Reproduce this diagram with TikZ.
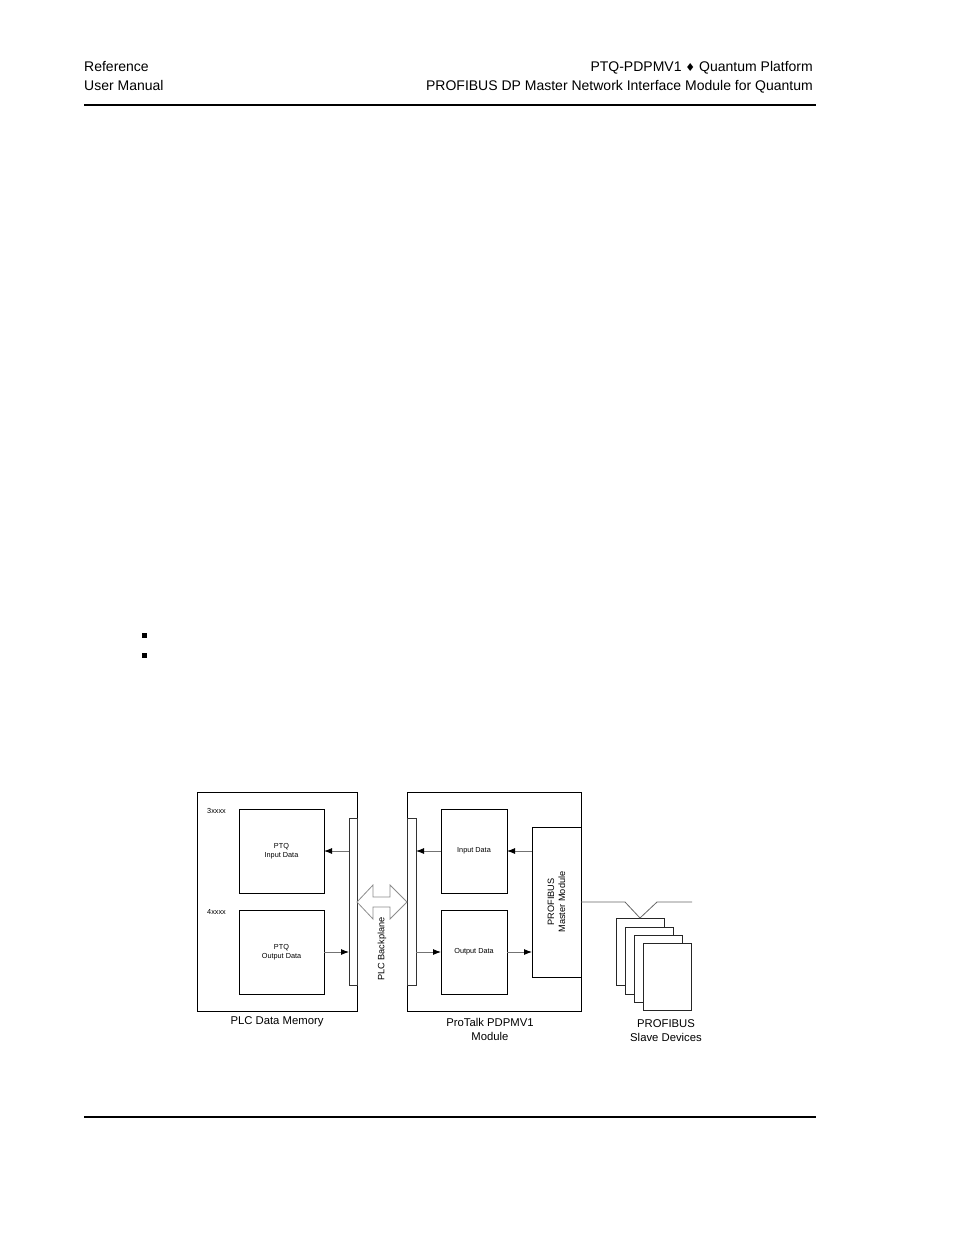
\documentclass[tikz,border=0pt]{standalone}
\usepackage{fontspec}
\setmainfont{Liberation Sans}
\newfontfamily\symfont{DejaVu Sans}
\usetikzlibrary{arrows.meta}
\begin{document}
\begin{tikzpicture}[x=1pt,y=-1pt,
  box/.style={draw=black,line width=0.9pt,inner sep=0pt,outer sep=0pt,fill=white},
  bar/.style={draw=black!80,line width=0.8pt,inner sep=0pt,outer sep=0pt,fill=white},
  slave/.style={draw=black!85,line width=0.8pt,inner sep=0pt,outer sep=0pt,fill=white,minimum width=48pt,minimum height=67pt},
  arr/.style={draw=black!55,line width=0.9pt,-{Latex[length=8pt,width=6pt,color=black]}},
  small/.style={font=\fontsize{7.3}{9}\selectfont,align=center,inner sep=0pt},
  mid/.style={font=\fontsize{9.2}{11}\selectfont,align=center,inner sep=0pt},
  lab/.style={font=\fontsize{11.3}{14.5}\selectfont,align=center,inner sep=0pt},
  head/.style={font=\fontsize{14}{16}\selectfont,inner sep=0pt}]
\useasboundingbox (0,0) rectangle (954,1235);
% header / footer
\node[head,anchor=base west] (h1) at (84,71) {Reference};
\node[head,anchor=base west] (h2) at (84,90) {User Manual};
\node[head,anchor=base east] (h3) at (813,71) {PTQ-PDPMV1 {\symfont\fontsize{11}{12}\selectfont ♦} Quantum Platform};
\node[head,anchor=base east] (h4) at (813,90) {PROFIBUS DP Master Network Interface Module for Quantum};
\draw[line width=1.2pt] (84,105) -- (816,105);
\draw[line width=1.2pt] (84,1117) -- (816,1117);
% bullets
\fill (142,633) rectangle (147,638);
\fill (142,653) rectangle (147,658);
% PLC data memory
\node[box,minimum width=160pt,minimum height=219pt] (plc) at (277,901.5) {};
\node[box,minimum width=85pt,minimum height=84pt] (pin) at (281.5,851) {};
\node[small] at (pin) {PTQ\\Input Data};
\node[box,minimum width=85pt,minimum height=84pt] (pout) at (281.5,952) {};
\node[small] at (pout) {PTQ\\Output Data};
\node[bar,minimum width=8pt,minimum height=167pt] (barL) at (353,901.5) {};
\node[small,anchor=west] (a3) at (207,811) {3xxxx};
\node[small,anchor=west] (a4) at (207,912) {4xxxx};
\node[lab] (plclab) at (277,1022) {PLC Data Memory};
\draw[arr] (barL.west |- pin.east) -- (pin.east);
\draw[arr] (pout.east) -- (barL.west |- pout.east);
% ProTalk module
\node[box,minimum width=174pt,minimum height=219pt] (pt) at (494,901.5) {};
\node[bar,minimum width=9pt,minimum height=167pt] (barR) at (411.5,901.5) {};
\node[box,minimum width=66pt,minimum height=84pt] (idat) at (474,851) {};
\node[small] at (idat) {Input Data};
\node[box,minimum width=66pt,minimum height=84pt] (odat) at (474,952) {};
\node[small] at (odat) {Output Data};
\node[box,minimum width=49pt,minimum height=150pt] (mm) at (556.5,902) {};
\node[mid,rotate=90] at (mm) {PROFIBUS\\Master Module};
\node[mid,rotate=90] (bpl) at (382,949) {PLC Backplane};
\node[lab] (ptlab) at (490,1029.5) {ProTalk PDPMV1\\Module};
\draw[arr] (mm.west |- idat.east) -- (idat.east);
\draw[arr] (idat.west) -- (barR.east |- idat.west);
\draw[arr] (barR.east |- odat.west) -- (odat.west);
\draw[arr] (odat.east) -- (mm.west |- odat.east);
% backplane double arrow
\draw[black!45,line width=0.8pt,fill=white] (357,902) -- (373,885) -- (373,897) -- (390,897) -- (390,885) -- (407,902) -- (390,919) -- (390,907) -- (373,907) -- (373,919) -- cycle;
% slaves
\node[slave] (s1) at (640,951.5) {};
\node[slave] (s2) at (649,960.5) {};
\node[slave] (s3) at (658,968.5) {};
\node[slave] (s4) at (667,976.5) {};
\node[lab] (slab) at (666,1030.5) {PROFIBUS\\Slave Devices};
\coordinate (busend) at (692,902);
\draw[black!60,line width=0.8pt] (pt.east |- mm.center) -- (625,902) -- (s1.north) -- (657,902) -- (busend);
\end{tikzpicture}
\end{document}
